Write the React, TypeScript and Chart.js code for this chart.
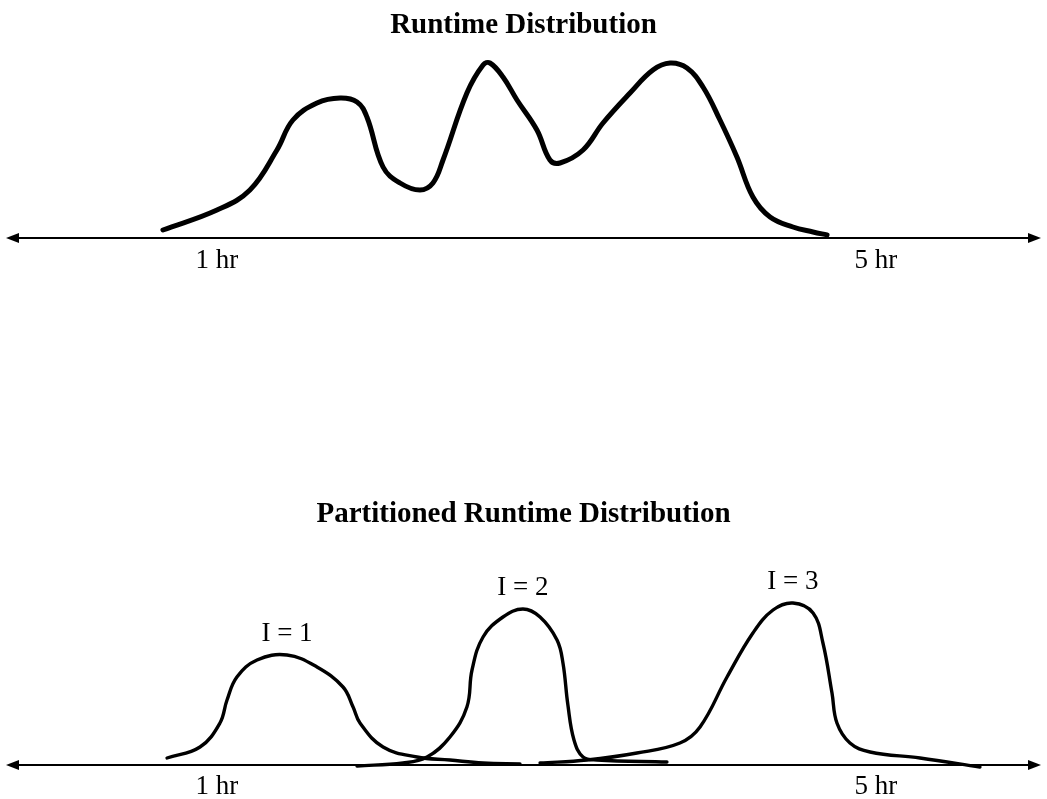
import React, { useEffect, useRef } from "react";
import { Chart, registerables } from "chart.js";

Chart.register(...registerables);

// ---- data (x in hours, y = relative density) ----
const runtimeX = [0.672, 1.0, 1.2, 1.364, 1.461, 1.607, 1.747, 1.85, 1.91, 2.008, 2.111, 2.232, 2.311, 2.372, 2.517, 2.615, 2.657, 2.736, 2.821, 2.942, 3.021, 3.082, 3.222, 3.343, 3.507, 3.646, 3.75, 3.853, 3.95, 4.053, 4.156, 4.253, 4.357, 4.496, 4.618, 4.703];
const runtimeY = [8, 28, 48, 88, 118, 135, 140, 136, 121, 71, 55, 48, 55, 78, 145, 173, 175, 161, 138, 108, 78, 75, 88, 115, 145, 168, 175, 170, 151, 118, 81, 41, 21, 11, 6, 3];

const part1X = [0.697, 0.897, 1.018, 1.061, 1.121, 1.243, 1.425, 1.607, 1.765, 1.826, 1.868, 2.008, 2.214, 2.414, 2.615, 2.839];
const part1Y = [7, 18, 42, 65, 88, 105, 110, 98, 78, 58, 42, 18, 8, 5, 2, 1];

const part2X = [1.85, 2.129, 2.275, 2.414, 2.517, 2.548, 2.615, 2.736, 2.857, 2.961, 3.064, 3.1, 3.13, 3.167, 3.222, 3.307, 3.731];
const part2Y = [-1, 2, 8, 28, 58, 95, 128, 148, 156, 148, 125, 102, 60, 25, 8, 5, 3];

const part3X = [2.961, 3.246, 3.549, 3.81, 3.932, 4.096, 4.253, 4.375, 4.496, 4.618, 4.678, 4.733, 4.763, 4.842, 4.964, 5.267, 5.631];
const part3Y = [2, 5, 12, 22, 38, 88, 132, 155, 162, 152, 122, 72, 42, 22, 13, 7, -2];

const partLabels = ["I = 1", "I = 2", "I = 3"];
const tickValues = [1, 5];
const tickLabels = ["1 hr", "5 hr"];
const topTitle = "Runtime Distribution";
const bottomTitle = "Partitioned Runtime Distribution";

const X_MIN = -0.317;
const X_MAX = 6.038;

const zip = (xs: number[], ys: number[]) => xs.map((x, i) => ({ x, y: ys[i] }));

const SERIF = '"Liberation Serif", "DejaVu Serif", serif';

function drawText(ctx: CanvasRenderingContext2D, text: string, x: number, y: number, font: string, baseline: CanvasTextBaseline) {
  ctx.save();
  ctx.font = font;
  ctx.fillStyle = "#000";
  ctx.textAlign = "center";
  ctx.textBaseline = baseline;
  ctx.fillText(text, x, y);
  ctx.restore();
}

function makeDecor(title: string, titleBaseline: number, tickDy: number, peakLabels: string[] | null) {
  return {
    id: "decor",
    afterDraw(chart: any) {
      const ctx: CanvasRenderingContext2D = chart.ctx;
      const xs = chart.scales.x;
      const ys = chart.scales.y;
      const ay = ys.getPixelForValue(0);
      const w = chart.width;
      ctx.save();
      // axis line with arrows at both ends
      ctx.strokeStyle = "#000";
      ctx.fillStyle = "#000";
      ctx.lineWidth = 2;
      ctx.beginPath();
      ctx.moveTo(14, ay);
      ctx.lineTo(w - 14, ay);
      ctx.stroke();
      ctx.beginPath();
      ctx.moveTo(6, ay);
      ctx.lineTo(19, ay - 5);
      ctx.lineTo(19, ay + 5);
      ctx.closePath();
      ctx.fill();
      ctx.beginPath();
      ctx.moveTo(w - 6, ay);
      ctx.lineTo(w - 19, ay - 5);
      ctx.lineTo(w - 19, ay + 5);
      ctx.closePath();
      ctx.fill();
      // tick labels
      tickValues.forEach((v, i) => {
        drawText(ctx, tickLabels[i], xs.getPixelForValue(v), ay + tickDy, `27px ${SERIF}`, "alphabetic");
      });
      // title
      drawText(ctx, title, w / 2, titleBaseline, `bold 29px ${SERIF}`, "alphabetic");
      // peak labels
      if (peakLabels) {
        chart.data.datasets.forEach((ds: any, i: number) => {
          let best = ds.data[0];
          ds.data.forEach((p: any) => { if (p.y > best.y) best = p; });
          drawText(ctx, peakLabels[i], xs.getPixelForValue(best.x), ys.getPixelForValue(best.y) - 21, `27px ${SERIF}`, "middle");
        });
      }
      ctx.restore();
    },
  };
}

function baseOptions(padTop: number, padBottom: number) {
  return {
    responsive: false,
    animation: false as const,
    layout: { padding: { top: padTop, bottom: padBottom, left: 0, right: 0 } },
    plugins: { legend: { display: false }, tooltip: { enabled: false }, title: { display: false } },
    elements: { point: { radius: 0 } },
    scales: {
      x: { type: "linear" as const, min: X_MIN, max: X_MAX, display: false },
      y: { type: "linear" as const, min: 0, max: 200, display: false },
    },
  };
}

export default function App() {
  const topRef = useRef<HTMLCanvasElement>(null);
  const botRef = useRef<HTMLCanvasElement>(null);

  useEffect(() => {
    const lineDs = (data: any, width: number) => ({
      data,
      borderColor: "#000",
      borderWidth: width,
      tension: 0.4,
      fill: false,
      clip: false,
      pointRadius: 0,
      borderCapStyle: "round",
      borderJoinStyle: "round",
    });
    const top = new Chart(topRef.current!, {
      type: "line",
      data: { datasets: [lineDs(zip(runtimeX, runtimeY), 5) as any] },
      options: baseOptions(38, 62) as any,
      plugins: [makeDecor(topTitle, 33, 30, null)],
    });
    const bot = new Chart(botRef.current!, {
      type: "line",
      data: {
        datasets: [
          lineDs(zip(part1X, part1Y), 3.4) as any,
          lineDs(zip(part2X, part2Y), 3.4) as any,
          lineDs(zip(part3X, part3Y), 3.4) as any,
        ],
      },
      options: baseOptions(65, 34) as any,
      plugins: [makeDecor(bottomTitle, 22, 29, partLabels)],
    });
    return () => {
      top.destroy();
      bot.destroy();
    };
  }, []);

  return (
    <div style={{ position: "absolute", left: 0, top: 0, width: 1047, height: 799, background: "#fff" }}>
      <canvas ref={topRef} width={1047} height={300} style={{ position: "absolute", left: 0, top: 0, width: 1047, height: 300 }} />
      <canvas ref={botRef} width={1047} height={299} style={{ position: "absolute", left: 0, top: 500, width: 1047, height: 299 }} />
    </div>
  );
}
